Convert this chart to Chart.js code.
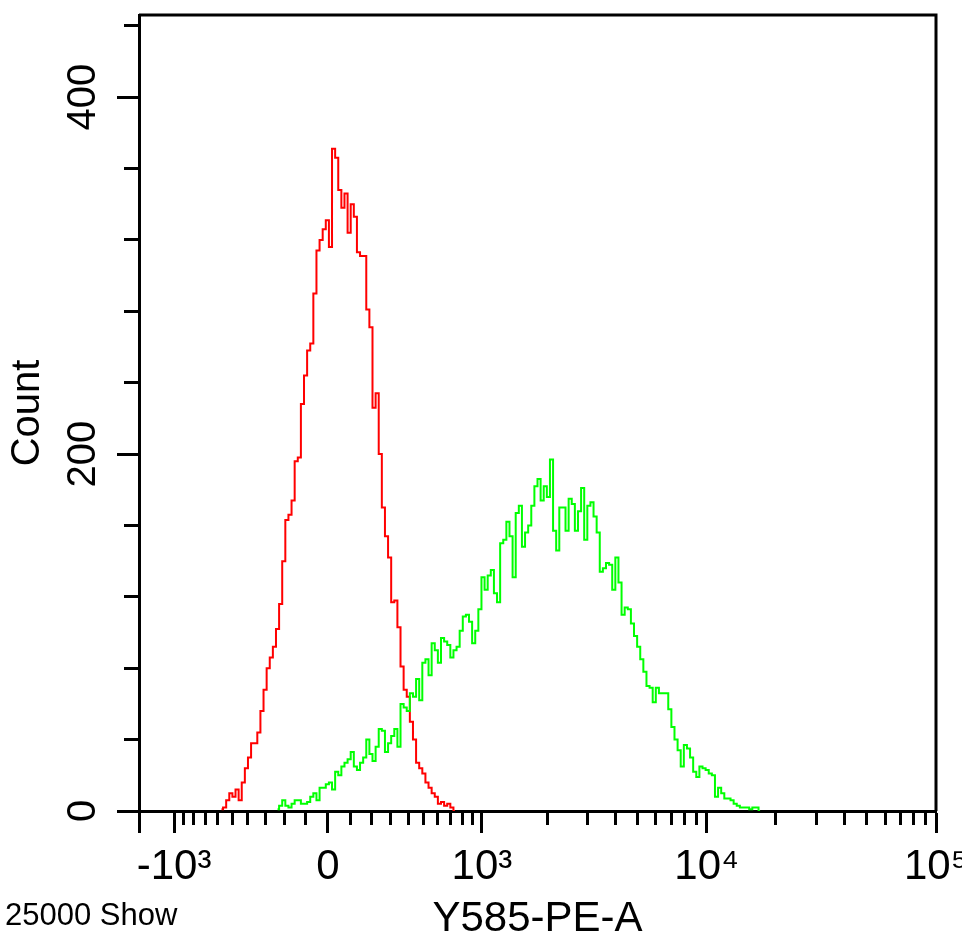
<!DOCTYPE html>
<html>
<head>
<meta charset="utf-8">
<title>Y585-PE-A histogram</title>
<script src="https://cdn.jsdelivr.net/npm/chart.js@4.4.1/dist/chart.umd.min.js"></script>
<style>
  html, body { margin: 0; padding: 0; background: #fff; overflow: hidden; }
  #wrap { position: relative; width: 962px; height: 941px; }
  #eventNote {
    position: absolute; left: 5px; top: 899px;
    font: 31px "Liberation Sans", Arial, sans-serif; line-height: 31px; color: #000;
  }
</style>
</head>
<body>
<div id="wrap">
  <canvas id="canvas" width="962" height="941"></canvas>
  <div id="eventNote">25000 Show</div>
</div>
<script>
// histogram is binned in 256 display channels along the x axis
const CHANNELS = 256;

// red histogram (control), counts per channel starting at channel 26
const controlStart = 26;
const controlCounts = [
  1, 2, 6, 10, 8, 12, 6, 16, 24, 30,
  38, 38, 44, 56, 68, 80, 86, 92, 102, 116,
  140, 163, 166, 174, 196, 198, 228, 244, 258, 262,
  290, 314, 320, 326, 331, 316, 371, 366, 348, 338,
  346, 324, 340, 333, 313, 311, 311, 281, 271, 226,
  234, 200, 170, 154, 142, 117, 118, 103, 81, 68,
  64, 50, 40, 27, 24, 21, 16, 13, 10, 8,
  4, 5, 3, 4, 2, 0,
];

// green histogram (stained), counts per channel starting at channel 44
const stainedStart = 44;
const stainedCounts = [
  1, 3, 6, 3, 2, 4, 6, 6, 4, 4,
  5, 8, 10, 6, 13, 13, 15, 16, 12, 22,
  20, 25, 27, 29, 33, 25, 23, 27, 30, 40,
  32, 28, 36, 46, 45, 33, 38, 42, 46, 36,
  60, 58, 56, 66, 64, 74, 62, 83, 85, 76,
  94, 90, 83, 97, 95, 93, 86, 90, 92, 101,
  109, 110, 106, 94, 101, 113, 131, 124, 132, 135,
  122, 117, 150, 152, 162, 154, 131, 167, 171, 148,
  156, 160, 171, 182, 186, 174, 182, 176, 197, 157,
  146, 170, 170, 157, 175, 172, 157, 168, 181, 152,
  171, 173, 165, 156, 134, 136, 139, 138, 124, 142,
  128, 110, 114, 113, 105, 98, 92, 85, 78, 70,
  69, 61, 69, 66, 66, 66, 57, 47, 40, 34,
  25, 37, 35, 30, 22, 19, 25, 24, 23, 21,
  20, 8, 13, 10, 7, 7, 6, 4, 3, 2,
  2, 2, 1, 2, 2, 0,
];

// x axis: decades with labels, plus the minor ticks in between
const xMajorValues = [-1000, 0, 1000, 10000, 100000];
const xMajorLabels = ["-10³", "0", "10³", "10⁴", "10⁵"];
const xMinorValues = [
  -900, -800, -700, -600, -500, -400, -300, -200, -100,
  100, 200, 300, 400, 500, 600, 700, 800, 900,
  2000, 3000, 4000, 5000, 6000, 7000, 8000, 9000,
  20000, 30000, 40000, 50000, 60000, 70000, 80000, 90000,
];

// y axis
const yMax = 446;
const yMajorValues = [0, 200, 400];
const yMinorValues = [40, 80, 120, 160, 240, 280, 320, 360, 440];

// biexponential display: channel = zero + k * asinh(value / w)
const ZERO_CH = 60.7;
const K_CH = 32.0;
const W = 447;
function toChannel(v) {
  return ZERO_CH + K_CH * Math.asinh(v / W);
}

// turn counts into points at the channel centres
function toPoints(start, counts) {
  return counts.map((c, i) => ({ x: start + i + 0.5, y: c }));
}

// draw the top and right sides of the plot box
const framePlugin = {
  id: "frame",
  afterDatasetsDraw(chart) {
    const { ctx, chartArea: a } = chart;
    ctx.save();
    ctx.strokeStyle = "#000";
    ctx.lineWidth = 3;
    ctx.beginPath();
    ctx.moveTo(a.left, a.top);
    ctx.lineTo(a.right, a.top);
    ctx.lineTo(a.right, a.bottom);
    ctx.stroke();
    ctx.restore();
  },
};

Chart.defaults.font.family = '"Liberation Sans", Arial, sans-serif';
Chart.defaults.color = "#000";

const ctx = document.getElementById("canvas").getContext("2d");

new Chart(ctx, {
  type: "line",
  data: {
    datasets: [
      {
        label: "stained",
        data: toPoints(stainedStart, stainedCounts),
        borderColor: "#00ff00",
        borderWidth: 2,
        stepped: "middle",
        pointRadius: 0,
        fill: false,
        xAxisID: "x",
        yAxisID: "y",
      },
      {
        label: "control",
        data: toPoints(controlStart, controlCounts),
        borderColor: "#ff0000",
        borderWidth: 2,
        stepped: "middle",
        pointRadius: 0,
        fill: false,
        xAxisID: "x",
        yAxisID: "y",
      },
    ],
  },
  options: {
    responsive: false,
    animation: false,
    devicePixelRatio: 1,
    layout: { padding: { top: 15, right: 26, left: 0, bottom: 0 } },
    plugins: {
      legend: { display: false },
      tooltip: { enabled: false },
    },
    scales: {
      x: {
        type: "linear",
        position: "bottom",
        min: 0,
        max: CHANNELS,
        bounds: "data",
        afterBuildTicks: (scale) => {
          // first tick is the axis start, it has no label
          scale.ticks = [{ value: 0 }].concat(
            xMajorValues.map((v) => ({ value: toChannel(v) }))
          );
        },
        afterFit: (scale) => {
          scale.height = 130;
          scale.paddingLeft = 0;
          scale.paddingRight = 0;
        },
        ticks: {
          autoSkip: false,
          minRotation: 0,
          maxRotation: 0,
          padding: 9,
          font: { size: 42 },
          callback: (value, index) => (index === 0 ? "" : xMajorLabels[index - 1]),
        },
        grid: {
          drawOnChartArea: false,
          tickLength: 22,
          tickWidth: 3,
          tickColor: "#000",
        },
        border: { display: true, width: 3, color: "#000" },
        title: {
          display: true,
          text: "Y585-PE-A",
          font: { size: 42, lineHeight: 1.05 },
          padding: 0,
        },
      },
      xMinor: {
        type: "linear",
        axis: "x",
        position: { y: 0 },
        min: 0,
        max: CHANNELS,
        bounds: "data",
        afterBuildTicks: (scale) => {
          scale.ticks = xMinorValues.map((v) => ({ value: toChannel(v) }));
        },
        afterFit: (scale) => {
          scale.paddingLeft = 0;
          scale.paddingRight = 0;
        },
        ticks: { display: false, autoSkip: false },
        grid: {
          drawOnChartArea: false,
          tickLength: 14,
          tickWidth: 3,
          tickColor: "#000",
        },
        border: { display: false },
      },
      y: {
        type: "linear",
        position: "left",
        min: 0,
        max: yMax,
        bounds: "data",
        afterBuildTicks: (scale) => {
          scale.ticks = yMajorValues.map((v) => ({ value: v }));
        },
        afterFit: (scale) => {
          scale.width = 139;
          scale.paddingTop = 0;
          scale.paddingBottom = 0;
        },
        ticks: {
          autoSkip: false,
          minRotation: 90,
          maxRotation: 90,
          crossAlign: "center",
          padding: 0,
          font: { size: 40 },
        },
        grid: {
          drawOnChartArea: false,
          tickLength: 22,
          tickWidth: 3,
          tickColor: "#000",
        },
        border: { display: true, width: 3, color: "#000" },
        title: {
          display: true,
          text: "Count",
          font: { size: 40 },
          padding: 4,
        },
      },
      yMinor: {
        type: "linear",
        axis: "y",
        position: { x: 0 },
        min: 0,
        max: yMax,
        bounds: "data",
        afterBuildTicks: (scale) => {
          scale.ticks = yMinorValues.map((v) => ({ value: v }));
        },
        afterFit: (scale) => {
          scale.paddingTop = 0;
          scale.paddingBottom = 0;
        },
        ticks: { display: false, autoSkip: false },
        grid: {
          drawOnChartArea: false,
          tickLength: 15,
          tickWidth: 3,
          tickColor: "#000",
        },
        border: { display: false },
      },
    },
  },
  plugins: [framePlugin],
});
</script>
</body>
</html>
